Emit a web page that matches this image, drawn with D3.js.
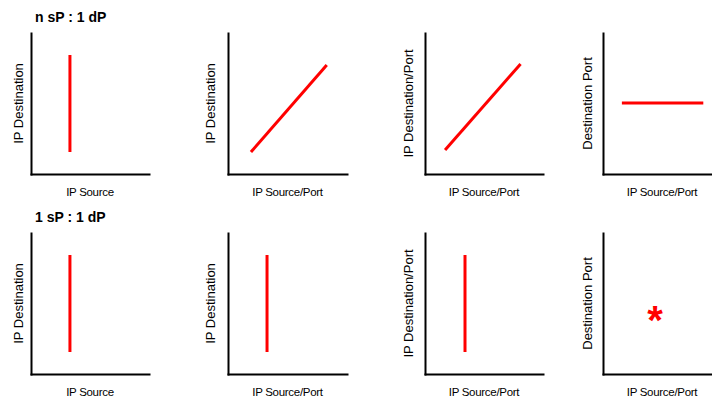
<!DOCTYPE html>
<html>
<head>
<meta charset="utf-8">
<script src="https://cdn.jsdelivr.net/npm/d3@7"></script>
<style>
  html, body { margin: 0; padding: 0; background: #fff; }
  svg { display: block; font-family: "Liberation Sans", Arial, sans-serif; }
</style>
</head>
<body>
<svg id="chart" width="712" height="401"></svg>
<script>
// ---- data ----
const rowTitles = ["n sP : 1 dP", "1 sP : 1 dP"];
const xLabels = [
  ["IP Source", "IP Source/Port", "IP Source/Port", "IP Source/Port"],
  ["IP Source", "IP Source/Port", "IP Source/Port", "IP Source/Port"]
];
const yLabels = [
  ["IP Destination", "IP Destination", "IP Destination/Port", "Destination Port"],
  ["IP Destination", "IP Destination", "IP Destination/Port", "Destination Port"]
];
// each series: type and its points in a 0..10 conceptual domain
const series = [
  [
    { type: "line", points: [[3.3, 1.56], [3.3, 8.44]] },
    { type: "line", points: [[1.93, 1.56], [8.3, 7.73]] },
    { type: "line", points: [[1.7, 1.7], [8.1, 7.8]] },
    { type: "line", points: [[1.6, 5.04], [8.5, 5.04]] }
  ],
  [
    { type: "line", points: [[3.3, 1.56], [3.3, 8.44]] },
    { type: "line", points: [[3.28, 1.56], [3.28, 8.44]] },
    { type: "line", points: [[3.39, 1.56], [3.39, 8.44]] },
    { type: "star", points: [[4.4, 4.22]] }
  ]
];
const domain = [0, 10];

// ---- layout ----
const colLeft = [31, 228, 425, 603];
const colWidth = [118, 119, 118, 118];
const yLabelOffset = [8.5, 13, 12, 11];
const rowTop = [33, 233];
const plotH = 141;

const svg = d3.select("#chart");

rowTitles.forEach((t, r) => {
  svg.append("text")
    .attr("x", 35).attr("y", rowTop[r] - 11)
    .attr("font-size", 14).attr("font-weight", "bold")
    .attr("fill", "#000")
    .text(t);
});

for (let r = 0; r < 2; r++) {
  for (let c = 0; c < 4; c++) {
    const x0 = colLeft[c], w = colWidth[c];
    const top = rowTop[r], bottom = top + plotH;
    const x = d3.scaleLinear().domain(domain).range([x0, x0 + w]);
    const y = d3.scaleLinear().domain(domain).range([bottom, top]);
    const g = svg.append("g");

    // axes (no ticks)
    const xAxis = d3.axisBottom(x).tickValues([]).tickSizeOuter(0);
    const yAxis = d3.axisLeft(y).tickValues([]).tickSizeOuter(0);
    g.append("g").attr("transform", `translate(0,${bottom})`).call(xAxis)
      .select(".domain").attr("stroke", "#000").attr("stroke-width", 2);
    g.append("g").attr("transform", `translate(${x0},0)`).call(yAxis)
      .select(".domain").attr("stroke", "#000").attr("stroke-width", 2);
    g.selectAll(".domain").attr("stroke-linecap", "square");

    // labels
    g.append("text")
      .attr("x", x0 + w / 2).attr("y", bottom + 22)
      .attr("text-anchor", "middle").attr("font-size", 11.5)
      .attr("letter-spacing", -0.3)
      .attr("fill", "#000")
      .text(xLabels[r][c]);
    g.append("text")
      .attr("transform", `translate(${x0 - yLabelOffset[c]},${(top + bottom) / 2}) rotate(-90)`)
      .attr("text-anchor", "middle").attr("font-size", 13)
      .attr("fill", "#000")
      .text(yLabels[r][c]);

    const s = series[r][c];
    if (s.type === "line") {
      g.append("path")
        .datum(s.points)
        .attr("fill", "none").attr("stroke", "#ff0000")
        .attr("stroke-width", 3)
        .attr("d", d3.line().x(d => x(d[0])).y(d => y(d[1])));
    } else {
      s.points.forEach(p => {
        const t = g.append("text")
          .attr("x", x(p[0])).attr("y", y(p[1]))
          .attr("font-size", 40).attr("font-weight", "bold")
          .attr("fill", "#ff0000")
          .attr("text-anchor", "middle")
          .text("*");
        const bb = t.node().getBBox();
        const inkCenter = bb.y + bb.height * 0.38;
        t.attr("y", y(p[1]) + (y(p[1]) - inkCenter));
      });
    }
  }
}
</script>
</body>
</html>
